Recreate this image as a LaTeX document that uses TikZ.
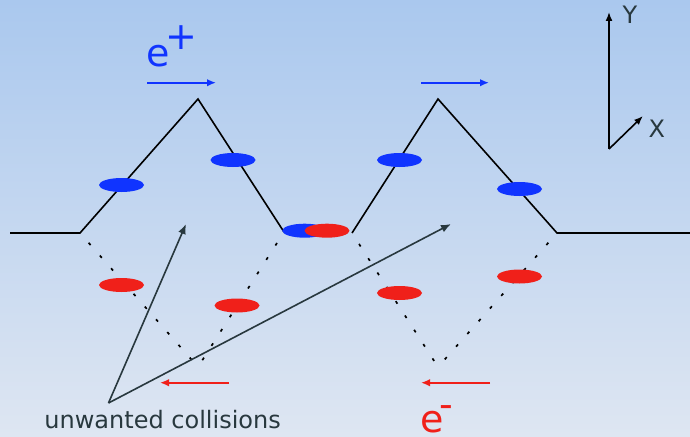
\documentclass[tikz,border=0pt]{standalone}
\usepackage{fontspec}
\setmainfont{DejaVu Sans}
\usetikzlibrary{shapes.geometric,arrows.meta}
\definecolor{bgtop}{RGB}{170,200,238}
\definecolor{bgbot}{RGB}{222,230,242}
\definecolor{pblue}{RGB}{16,52,255}
\definecolor{pred}{RGB}{240,32,26}
\definecolor{slate}{RGB}{40,56,62}
\tikzset{
  track/.style={line width=1.6pt, black, line join=miter},
  ghost/.style={line width=1.7pt, black, dash pattern=on 3pt off 14pt, dash phase=4pt},
  bunchb/.style={ellipse, fill=pblue, draw=none, minimum width=45pt, minimum height=14pt, inner sep=0pt},
  bunchr/.style={ellipse, fill=pred, draw=none, minimum width=45pt, minimum height=14pt, inner sep=0pt},
  beamarrow/.style={line width=1.7pt, -{Latex[length=9pt,width=7.5pt]}},
  collarrow/.style={line width=1.6pt, slate, -{Latex[length=10pt,width=8pt]}},
  axisarrow/.style={line width=1.6pt, black, -{Latex[length=9pt,width=7pt]}},
  lbl/.style={inner sep=0pt, anchor=base west},
}
\begin{document}
\begin{tikzpicture}[x=1pt,y=-1pt]
\useasboundingbox (0,0) rectangle (690,436);
\fill[top color=bgtop, bottom color=bgbot, draw=none] (0,0) rectangle (690,436);
% track coordinates
\coordinate (a0) at (10,233);
\coordinate (a1) at (80,233);
\coordinate (p1) at (198,99);
\coordinate (b1) at (284,232);
\coordinate (b2) at (352,233);
\coordinate (p2) at (438,99);
\coordinate (a2) at (557,233);
\coordinate (a3) at (690,233);
\coordinate (v1) at (198,367);
\coordinate (v2) at (438,367);
% solid positron path
\draw[track] (a0) -- (a1) -- (p1) -- (b1);
\draw[track] (b2) -- (p2) -- (a2) -- (a3);
% dotted electron path
\draw[ghost] (a1) -- (v1);
\draw[ghost] (b1) -- (v1);
\draw[ghost] (b2) -- (v2);
\draw[ghost] (a2) -- (v2);
% bunches
\node[bunchb] (pb1) at (121.5,185) {};
\node[bunchb] (pb2) at (233,160) {};
\node[bunchb] (pb3) at (399.5,160) {};
\node[bunchb] (pb4) at (519.5,189) {};
\node[bunchb] (pb5) at (304.7,230.7) {};
\node[bunchr] (eb5) at (327,230.7) {};
\node[bunchr] (eb1) at (121.5,285) {};
\node[bunchr] (eb2) at (237,305.5) {};
\node[bunchr] (eb3) at (399.5,293) {};
\node[bunchr] (eb4) at (519.5,276.5) {};
% beam direction arrows
\coordinate (bs1) at (147,82.7);
\coordinate (be1) at (216,82.7);
\coordinate (bs2) at (421,82.7);
\coordinate (be2) at (489,82.7);
\draw[beamarrow, pblue] (bs1) -- (be1);
\draw[beamarrow, pblue] (bs2) -- (be2);
\coordinate (rs1) at (229,382.7);
\coordinate (re1) at (160,382.7);
\coordinate (rs2) at (490,382.7);
\coordinate (re2) at (421,382.7);
\draw[beamarrow, pred] (rs1) -- (re1);
\draw[beamarrow, pred] (rs2) -- (re2);
% collision arrows
\coordinate (cs) at (108.5,403);
\coordinate (ct1) at (186,224);
\coordinate (ct2) at (451,224);
\draw[collarrow] (cs) -- (ct1);
\draw[collarrow] (cs) -- (ct2);
% axes
\coordinate (o) at (609,149);
\coordinate (yt) at (609,12);
\coordinate (xt) at (643,116);
\draw[axisarrow] (o) -- (yt);
\draw[axisarrow] (o) -- (xt);
% labels
\node[lbl, text=pblue, font=\fontsize{38}{40}\selectfont] (eplus) at (146.2,66.5) {e\kern-4.5pt\raisebox{17pt}{+}};
\node[lbl, text=pred, font=\fontsize{38}{40}\selectfont] (eminus) at (420.2,432) {e\kern-4pt\raisebox{15pt}{-}};
\node[lbl, text=slate, font=\fontsize{24}{26}\selectfont] (ylbl) at (622.5,23.3) {Y};
\node[lbl, text=slate, font=\fontsize{24}{26}\selectfont] (xlbl) at (648.5,137) {X};
\node[inner sep=0pt, anchor=base, text=slate, font=\fontsize{24}{26}\selectfont] (coll) at (162.6,428) {unwanted collisions};
\end{tikzpicture}
\end{document}
